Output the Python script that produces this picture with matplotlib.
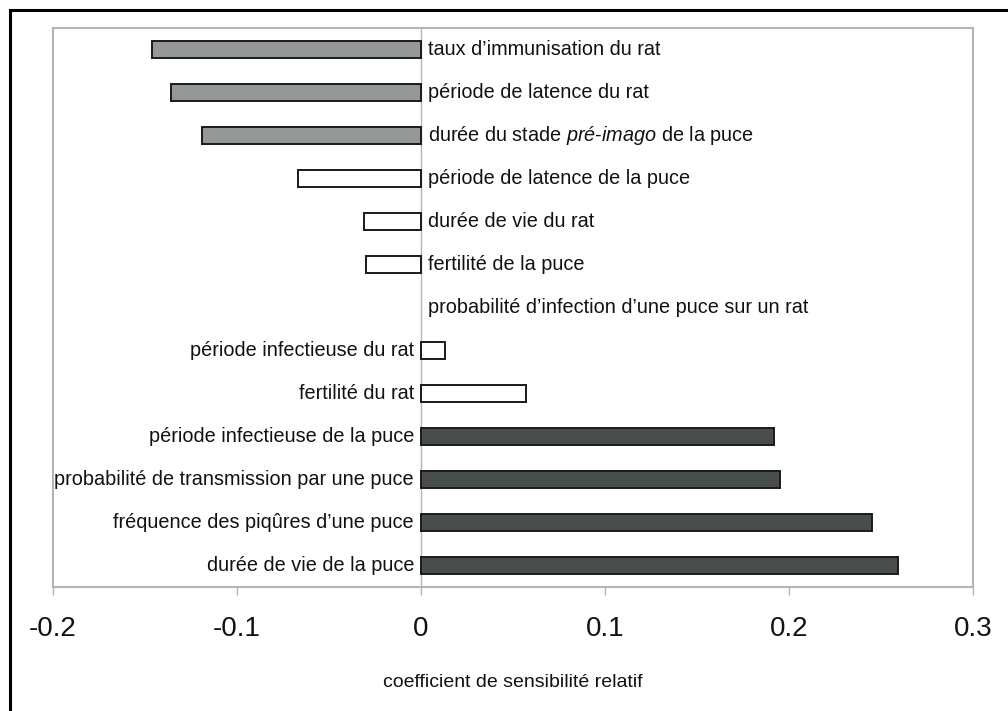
import matplotlib
matplotlib.use("Agg")
import matplotlib.pyplot as plt
from matplotlib.lines import Line2D

plt.rcParams["font.family"] = ["Liberation Sans", "DejaVu Sans"]
plt.rcParams["mathtext.fontset"] = "custom"
plt.rcParams["mathtext.rm"] = "Liberation Sans"
plt.rcParams["mathtext.it"] = "Liberation Sans:italic"

labels = [
    "taux d\u2019immunisation du rat",
    "période de latence du rat",
    "durée du stade $\\it{pré}$-$\\it{imago}$ de la puce",
    "période de latence de la puce",
    "durée de vie du rat",
    "fertilité de la puce",
    "probabilité d\u2019infection d\u2019une puce sur un rat",
    "période infectieuse du rat",
    "fertilité du rat",
    "période infectieuse de la puce",
    "probabilité de transmission par une puce",
    "fréquence des piqûres d\u2019une puce",
    "durée de vie de la puce",
]
values = [-0.146, -0.136, -0.119, -0.067, -0.031, -0.030, 0.0,
          0.013, 0.057, 0.192, 0.195, 0.245, 0.259]
groups = ["rat", "rat", "rat", "mid", "mid", "mid", "mid",
          "mid", "mid", "puce", "puce", "puce", "puce"]
colours = {"rat": "#939797", "mid": "white", "puce": "#474d4d"}

fig = plt.figure(figsize=(10.08, 7.11), dpi=100)
ax = fig.add_axes([0.0526, 0.1744, 0.9127, 0.7862])

ypos = list(range(len(labels)))
ax.barh(ypos, values, height=0.39,
        color=[colours[g] for g in groups],
        edgecolor="#1a1a1a",
        linewidth=[1.4 if v != 0 else 0 for v in values], zorder=3)
ax.axvline(0, color="#b4b4b4", linewidth=1.0, zorder=2)

for y, v, lab in zip(ypos, values, labels):
    if v > 0:
        ax.annotate(lab, (0, y), xytext=(-5, 0), textcoords="offset points",
                    ha="right", va="center", fontsize=14.3, color="#111111")
    else:
        ax.annotate(lab, (0, y), xytext=(5, 0), textcoords="offset points",
                    ha="left", va="center", fontsize=14.3, color="#111111")

ax.set_xlim(-0.2, 0.3)
ax.set_ylim(len(labels) - 0.5, -0.5)
ax.set_xticks([-0.2, -0.1, 0, 0.1, 0.2, 0.3])
ax.set_xticklabels(["-0.2", "-0.1", "0", "0.1", "0.2", "0.3"])
ax.set_yticks([])
ax.tick_params(axis="x", direction="out", length=6, width=1.0,
               color="#b4b4b4", labelsize=20, pad=15, labelcolor="#111111")
for s in ax.spines.values():
    s.set_color("#b4b4b4")
    s.set_linewidth(1.5)
ax.set_xlabel("coefficient de sensibilité relatif", fontsize=14,
              labelpad=23, color="#111111")

# outer frame (top and left edges visible)
fig.add_artist(Line2D([9.5 / 1008, 1.0], [1 - 9.5 / 711, 1 - 9.5 / 711],
                      transform=fig.transFigure, color="black", linewidth=2.2))
fig.add_artist(Line2D([9.5 / 1008, 9.5 / 1008], [0.0, 1 - 9.5 / 711],
                      transform=fig.transFigure, color="black", linewidth=2.2))

fig.savefig("out.png", dpi=100)
